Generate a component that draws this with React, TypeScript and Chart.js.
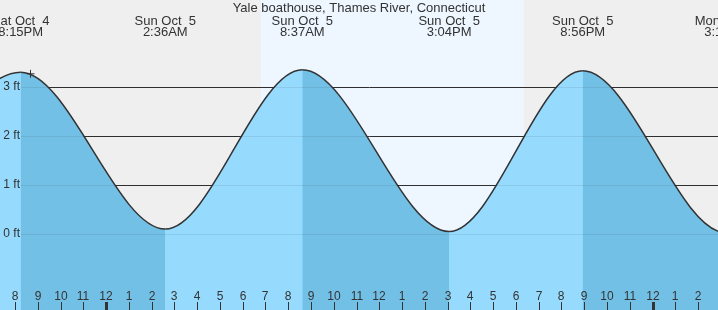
import React, { useEffect, useRef } from 'react';
import { Chart, registerables } from 'chart.js';

Chart.register(...registerables);

const TITLE = 'Yale boathouse, Thames River, Connecticut';

// Tide extremes, hours after Sat Oct 4, 8:00 PM
const tideHours = [-6.1, 0.25, 6.6, 12.617, 19.067, 24.933, 31.25, 37.4];
const tideFeet = [0.08, 3.3, 0.1, 3.35, 0.05, 3.33, 0.02, 3.3];
const tideDays = ['Sat Oct  4', 'Sat Oct  4', 'Sun Oct  5', 'Sun Oct  5', 'Sun Oct  5', 'Sun Oct  5', 'Mon Oct  6', 'Mon Oct  6'];
const tideClock = ['1:54PM', '8:15PM', '2:36AM', '8:37AM', '3:04PM', '8:56PM', '3:15AM', '9:24AM'];

// current-time marker
const markerHours = [0.68];
const markerFeet = [3.27];

// daylight (sunrise / sunset) in hours after Sat 8 PM
const sunriseHour = 10.8;
const sunsetHour = 22.35;

// hour ticks
const hourTickValues = [0, 1, 2, 3, 4, 5, 6, 7, 8, 9, 10, 11, 12, 13, 14, 15, 16, 17, 18, 19, 20, 21, 22, 23, 24, 25, 26, 27, 28, 29, 30];
const hourTickLabels = ['8', '9', '10', '11', '12', '1', '2', '3', '4', '5', '6', '7', '8', '9', '10', '11', '12', '1', '2', '3', '4', '5', '6', '7', '8', '9', '10', '11', '12', '1', '2'];
const midnightHours = [4, 28];

// height ticks
const feetTickValues = [0, 1, 2, 3];
const feetTickLabels = ['0 ft', '1 ft', '2 ft', '3 ft'];

const X_MIN = -0.659;
const X_MAX = 30.874;
const Y_MIN = -1.551;
const Y_MAX = 4.776;

const GREY_BG = '#efefef';
const DAY_BG = '#eef7ff';
const FILL_RISE = '#96dbfe';
const FILL_FALL = '#73c0e6';
const INK = '#333333';
const FONT = '"Liberation Sans", Arial, sans-serif';

const tidePlugin = {
  id: 'tideDecor',
  beforeDraw(chart: any) {
    const { ctx, chartArea: a, scales } = chart;
    const x = scales.x;
    ctx.save();
    ctx.fillStyle = GREY_BG;
    ctx.fillRect(a.left, a.top, a.right - a.left, a.bottom - a.top);
    const x0 = x.getPixelForValue(sunriseHour);
    const x1 = x.getPixelForValue(sunsetHour);
    ctx.fillStyle = DAY_BG;
    ctx.fillRect(x0, a.top, x1 - x0, a.bottom - a.top);
    ctx.restore();
  },
  beforeDatasetsDraw(chart: any) {
    const { ctx, chartArea: a, scales } = chart;
    const y = scales.y;
    ctx.save();
    ctx.strokeStyle = INK;
    ctx.lineWidth = 1;
    feetTickValues.forEach((v) => {
      const py = Math.round(y.getPixelForValue(v)) + 0.5;
      ctx.beginPath();
      ctx.moveTo(a.left + 21, py);
      ctx.lineTo(a.right, py);
      ctx.stroke();
    });
    ctx.restore();
  },
  afterDatasetsDraw(chart: any) {
    const { ctx, chartArea: a, scales } = chart;
    const x = scales.x;
    const y = scales.y;
    ctx.save();
    // faint grid over the water
    ctx.strokeStyle = 'rgba(0,0,0,0.08)';
    ctx.lineWidth = 1;
    feetTickValues.forEach((v) => {
      const py = Math.round(y.getPixelForValue(v)) + 0.5;
      ctx.beginPath();
      ctx.moveTo(a.left + 21, py);
      ctx.lineTo(a.right, py);
      ctx.stroke();
    });

    ctx.fillStyle = INK;
    // y labels
    ctx.font = '12px ' + FONT;
    ctx.textAlign = 'right';
    ctx.textBaseline = 'middle';
    feetTickValues.forEach((v, i) => {
      ctx.fillText(feetTickLabels[i], a.left + 20, y.getPixelForValue(v));
    });

    // hour labels and ticks
    ctx.textAlign = 'center';
    ctx.textBaseline = 'alphabetic';
    hourTickValues.forEach((v, i) => {
      const px = Math.round(x.getPixelForValue(v));
      ctx.fillText(hourTickLabels[i], px, a.bottom - 10);
      const thick = midnightHours.includes(v);
      if (thick) ctx.fillRect(px - 1, a.bottom - 8, 3, 8);
      else ctx.fillRect(px, a.bottom - 8, 1, 8);
    });

    // extremes labels
    ctx.font = '13px ' + FONT;
    tideHours.forEach((h, i) => {
      const px = x.getPixelForValue(h);
      ctx.fillText(tideDays[i], px, 25);
      ctx.fillText(tideClock[i], px, 36);
    });

    // title
    ctx.fillText(TITLE, (a.left + a.right) / 2, 12);
    ctx.restore();
  },
};

export default function App() {
  const ref = useRef<HTMLCanvasElement | null>(null);

  useEffect(() => {
    document.body.style.margin = '0';
    const canvas = ref.current;
    if (!canvas) return;
    const tideData = tideHours.map((h, i) => ({ x: h, y: tideFeet[i] }));
    const markerData = markerHours.map((h, i) => ({ x: h, y: markerFeet[i] }));
    const chart = new Chart(canvas, {
      type: 'line',
      data: {
        datasets: [
          {
            type: 'scatter',
            data: markerData,
            pointStyle: 'cross',
            pointRadius: 4,
            borderColor: INK,
            borderWidth: 1,
            showLine: false,
            order: 0,
          } as any,
          {
            data: tideData,
            borderColor: INK,
            borderWidth: 1.5,
            pointRadius: 0,
            cubicInterpolationMode: 'monotone',
            fill: 'start',
            backgroundColor: FILL_RISE,
            segment: {
              backgroundColor: (c: any) => (c.p1.parsed.y < c.p0.parsed.y ? FILL_FALL : FILL_RISE),
            },
            order: 1,
          },
          {
            data: tideData,
            borderWidth: 0,
            borderColor: 'rgba(0,0,0,0)',
            pointRadius: 0,
            cubicInterpolationMode: 'monotone',
            fill: 'start',
            backgroundColor: FILL_RISE,
            order: 2,
          },
        ],
      },
      options: {
        animation: false,
        responsive: false,
        maintainAspectRatio: false,
        layout: { padding: 0, autoPadding: false },
        plugins: {
          legend: { display: false },
          tooltip: { enabled: false },
          title: { display: false },
          filler: { drawTime: 'beforeDatasetDraw' },
        },
        scales: {
          x: { type: 'linear', display: false, min: X_MIN, max: X_MAX },
          y: { type: 'linear', display: false, min: Y_MIN, max: Y_MAX },
        },
      },
      plugins: [tidePlugin],
    } as any);
    return () => chart.destroy();
  }, []);

  return (
    <div style={{ width: 718, height: 310 }}>
      <canvas ref={ref} width={718} height={310} style={{ display: 'block', width: 718, height: 310 }} />
    </div>
  );
}
